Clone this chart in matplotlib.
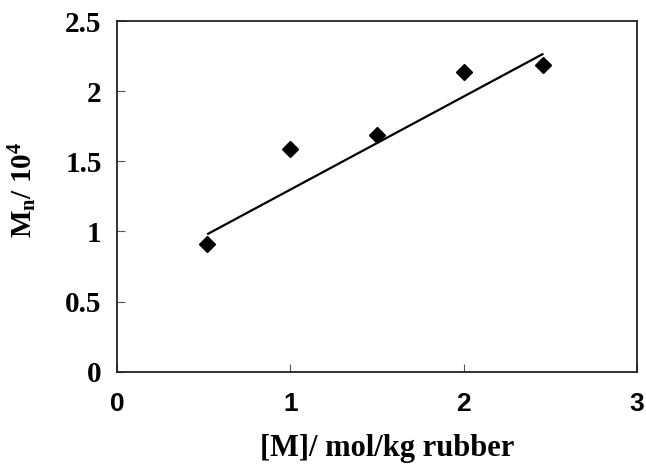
import matplotlib
matplotlib.use("Agg")
import matplotlib.pyplot as plt

# data
conc = [0.52, 1.0, 1.5, 2.0, 2.46]          # [M], mol/kg rubber
mn = [0.91, 1.59, 1.69, 2.14, 2.19]         # Mn / 10^4
fit_x = [0.52, 2.46]                        # trend line ends
fit_y = [0.98, 2.27]

x_ticks = [0, 1, 2, 3]
y_ticks = [0, 0.5, 1, 1.5, 2, 2.5]
y_tick_labels = ["0", "0.5", "1", "1.5", "2", "2.5"]

serif = ["Liberation Serif", "DejaVu Serif"]
sans = ["Liberation Sans", "DejaVu Sans"]

# sub/superscripts in the y label use the same bold serif face
plt.rcParams["mathtext.fontset"] = "custom"
plt.rcParams["mathtext.rm"] = "Liberation Serif:bold"
plt.rcParams["mathtext.bf"] = "Liberation Serif:bold"
plt.rcParams["mathtext.it"] = "Liberation Serif:bold"

fig = plt.figure(figsize=(6.46, 4.73), dpi=100)
ax = fig.add_axes([117 / 646, 1 - 371.5 / 473, 520 / 646, 350 / 473])

ax.plot(fit_x, fit_y, color="black", lw=1.6, solid_capstyle="butt")
ax.plot(conc, mn, linestyle="none", marker="D", markersize=8,
        color="black", clip_on=False)

ax.set_xlim(0, 3)
ax.set_ylim(0, 2.5)
ax.set_xticks(x_ticks)
ax.set_yticks(y_ticks)
ax.set_xticklabels([str(t) for t in x_ticks], family=sans,
                   fontweight="bold", fontsize=19)
ax.set_yticklabels(y_tick_labels, family=serif, fontweight="bold",
                   fontsize=21)
ax.tick_params(axis="x", direction="in", length=6, width=0.8,
               color="#555555", pad=15)
ax.tick_params(axis="y", direction="in", length=6, width=0.8,
               color="#555555", pad=11)
for s in ax.spines.values():
    s.set_linewidth(1.3)
    s.set_color("#222222")

ax.set_xlabel("[M]/ mol/kg rubber", family=serif, fontweight="bold",
              fontsize=22, va="center")
ax.xaxis.set_label_coords(0.52, -0.22)
ax.set_ylabel(r"M$_\mathrm{n}$/ 10$^\mathrm{4}$", family=serif,
              fontweight="bold", fontsize=21, va="center")
ax.yaxis.set_label_coords(-0.181, 0.52)

fig.savefig("out.png", dpi=100)
